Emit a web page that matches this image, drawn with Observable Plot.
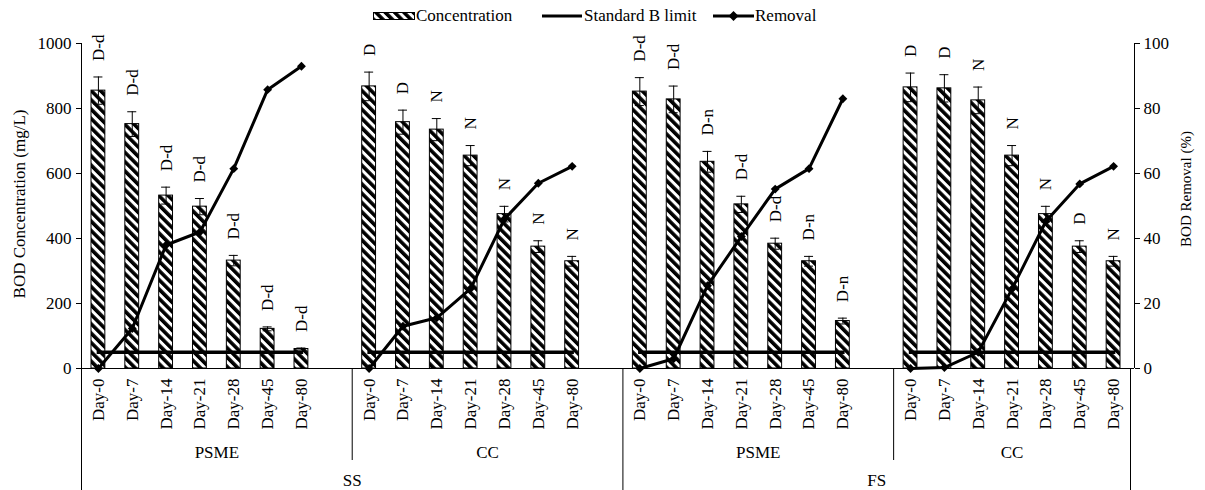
<!DOCTYPE html>
<html><head><meta charset="utf-8">
<script src="https://cdn.jsdelivr.net/npm/d3@7"></script>
<script src="https://cdn.jsdelivr.net/npm/@observablehq/plot@0.6"></script>
<style>
body{margin:0;background:#fff;font-family:"Liberation Serif","Times New Roman",Times,serif;}
#legend{position:relative;width:1205px;height:30px;font-size:17px;color:#000;}
#legend .t{position:absolute;top:0;line-height:32px;white-space:nowrap;}
#legend svg{position:absolute;overflow:visible;}
</style></head><body>
<div id="legend"></div>
<div id="chart"></div>
<script>
// ---- data ----
const days = ["Day-0", "Day-7", "Day-14", "Day-21", "Day-28", "Day-45", "Day-80"];
const sludges = ["SS", "SS", "FS", "FS"];
const treatments = ["PSME", "CC", "PSME", "CC"];
const concentration = [
  [855, 752, 532, 498, 332, 122, 60],
  [868, 758, 735, 655, 475, 375, 330],
  [852, 828, 636, 505, 384, 330, 146],
  [865, 862, 825, 655, 475, 375, 330]
];
const concError = [
  [42, 38, 26, 25, 16, 6, 3],
  [44, 37, 34, 31, 24, 18, 15],
  [43, 41, 32, 25, 17, 15, 9],
  [44, 42, 41, 31, 24, 18, 15]
];
const removal = [
  [0, 12.3, 38, 42, 61.5, 85.8, 93],
  [0, 13, 15.6, 24.6, 46, 57, 62.2],
  [0, 3, 25.5, 40.6, 55.2, 61.5, 83],
  [0, 0.3, 5, 24.5, 45.3, 56.8, 62.2]
];
const letters = [
  ["D-d", "D-d", "D-d", "D-d", "D-d", "D-d", "D-d"],
  ["D", "D", "N", "N", "N", "N", "N"],
  ["D-d", "D-d", "D-n", "D-d", "D-d", "D-n", "D-n"],
  ["D", "D", "N", "N", "N", "D", "N"]
];
const standardBLimit = 50;
const concTicks = [0, 200, 400, 600, 800, 1000];
const removalTicks = [0, 20, 40, 60, 80, 100];
const legendLabels = ["Concentration", "Standard B limit", "Removal"];
const yTitleLeft = "BOD Concentration (mg/L)";
const yTitleRight = "BOD Removal (%)";

// ---- table built from the arrays ----
const slotsPerGroup = days.length + 1;            // one blank slot between groups
const nSlots = treatments.length * slotsPerGroup - 1;
const rows = [];
treatments.forEach((t, g) => days.forEach((d, j) => rows.push({
  group: g, sludge: sludges[g], treatment: t, day: d,
  slot: g * slotsPerGroup + j,
  conc: concentration[g][j], err: concError[g][j],
  removal: removal[g][j], label: letters[g][j], limit: standardBLimit
})));
const treatGroups = treatments.map((t, g) => ({label: t, start: g * slotsPerGroup, end: Math.min((g + 1) * slotsPerGroup, nSlots)}));
const sludgeGroups = [];
treatGroups.forEach((tg, g) => {
  const last = sludgeGroups[sludgeGroups.length - 1];
  if (last && last.label === sludges[g]) last.end = tg.end;
  else sludgeGroups.push({label: sludges[g], start: tg.start, end: tg.end});
});
const longDividers = [0, ...sludgeGroups.map(s => s.end)];
const shortDividers = treatGroups.map(t => t.end).filter(e => !longDividers.includes(e));
const rem = r => r.removal * 10;   // removal % drawn on the 0-1000 axis (right axis 0-100)
const xc = r => r.slot + 0.5;

// ---- legend ----
const lg = document.getElementById("legend");
lg.innerHTML = `
<svg style="left:373px;top:12px" width="42" height="8"><defs><pattern id="hatchL" patternUnits="userSpaceOnUse" width="6.6" height="6.6" patternTransform="rotate(-45)"><rect width="6.6" height="6.6" fill="white"/><rect width="3.6" height="6.6" fill="black"/></pattern></defs><rect x="0.5" y="0.5" width="41" height="7" fill="url(#hatchL)" stroke="black"/></svg>
<span class="t" style="left:416px">${legendLabels[0]}</span>
<svg style="left:542px;top:13px" width="40" height="6"><line x1="0" x2="40" y1="3" y2="3" stroke="black" stroke-width="3"/></svg>
<span class="t" style="left:584px">${legendLabels[1]}</span>
<svg style="left:713px;top:9px" width="41" height="14"><line x1="0" x2="41" y1="7" y2="7" stroke="black" stroke-width="3"/><polygon points="20.5,2 25.5,7 20.5,12 15.5,7" fill="black"/></svg>
<span class="t" style="left:755px">${legendLabels[2]}</span>`;

// ---- chart ----
const chart = Plot.plot({
  width: 1205, height: 460,
  marginTop: 13, marginBottom: 122, marginLeft: 81, marginRight: 71,
  style: {fontFamily: "'Liberation Serif', 'Times New Roman', Times, serif", fontSize: "17px", color: "black", background: "white", overflow: "visible"},
  x: {type: "linear", domain: [0, nSlots], range: [81, 1130], axis: null},
  y: {domain: [0, 1000], axis: null},
  marks: [
    Plot.rectY(rows, {x1: "slot", x2: r => r.slot + 1, y: "conc", insetLeft: 10, insetRight: 10, fill: "url(#hatch)", stroke: "black", strokeWidth: 1}),
    Plot.ruleX(rows, {x: xc, y1: r => r.conc - r.err, y2: r => r.conc + r.err, stroke: "black", strokeWidth: 1}),
    Plot.ruleY(rows, {x1: xc, x2: xc, y: r => r.conc + r.err, insetLeft: -4.5, insetRight: -4.5, stroke: "black", strokeWidth: 1}),
    Plot.ruleY(rows, {x1: xc, x2: xc, y: r => r.conc - r.err, insetLeft: -4.5, insetRight: -4.5, stroke: "black", strokeWidth: 1}),
    Plot.line(rows, {x: xc, y: "limit", z: "group", stroke: "black", strokeWidth: 3.5, strokeLinecap: "square"}),
    Plot.line(rows, {x: xc, y: rem, z: "group", stroke: "black", strokeWidth: 3}),
    Plot.dot(rows, {x: xc, y: rem, symbol: "diamond2", r: 4, fill: "black"}),
    Plot.text(rows, {x: xc, y: r => r.conc + r.err, text: "label", rotate: -90, textAnchor: "start", lineAnchor: "middle", dy: -16, fontSize: 17}),
    // axes
    Plot.ruleY([0], {stroke: "black", strokeWidth: 1}),
    Plot.ruleX([0], {stroke: "black", strokeWidth: 1}),
    Plot.ruleX([nSlots], {dx: 4, stroke: "black", strokeWidth: 1}),
    Plot.ruleX(longDividers, {x: d => d, y: 0, insetBottom: -122, stroke: "black", strokeWidth: 1}),
    Plot.ruleX(shortDividers, {x: d => d, y: 0, insetBottom: -92, stroke: "black", strokeWidth: 1}),
    Plot.axisY({anchor: "left", ticks: concTicks, tickFormat: d => String(d), tickSize: 5, tickPadding: 5, fontSize: 17, label: null}),
    Plot.axisY({anchor: "right", ticks: removalTicks.map(v => v * 10), tickFormat: d => String(d / 10), tickSize: 5, tickPadding: 4, fontSize: 17, label: null}),
    Plot.text(rows, {x: xc, text: "day", frameAnchor: "bottom", rotate: -90, textAnchor: "end", lineAnchor: "middle", dy: 10, fontSize: 17}),
    Plot.text(treatGroups, {x: d => (d.start + d.end) / 2, text: "label", frameAnchor: "bottom", textAnchor: "middle", lineAnchor: "middle", dy: 84, fontSize: 17}),
    Plot.text(sludgeGroups, {x: d => (d.start + d.end) / 2, text: "label", frameAnchor: "bottom", textAnchor: "middle", lineAnchor: "middle", dy: 112, fontSize: 17}),
    Plot.text([yTitleLeft], {frameAnchor: "left", rotate: -90, textAnchor: "middle", lineAnchor: "middle", dx: -62, dy: -2, fontSize: 17}),
    Plot.text([yTitleRight], {frameAnchor: "right", rotate: -90, textAnchor: "middle", lineAnchor: "middle", dx: 52, dy: -17, fontSize: 15})
  ]
});
const defs = d3.select(chart).insert("defs", ":first-child");
const pat = defs.append("pattern").attr("id", "hatch").attr("patternUnits", "userSpaceOnUse")
  .attr("width", 6.6).attr("height", 6.6).attr("patternTransform", "rotate(-45)");
pat.append("rect").attr("width", 6.6).attr("height", 6.6).attr("fill", "white");
pat.append("rect").attr("width", 3.6).attr("height", 6.6).attr("fill", "black");
document.getElementById("chart").appendChild(chart);
</script></body></html>
